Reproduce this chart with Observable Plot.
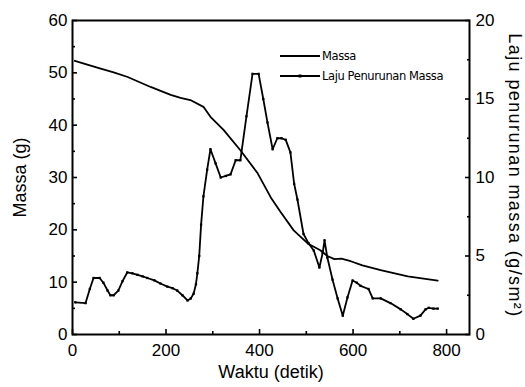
<!DOCTYPE html>
<html>
<head>
<meta charset="utf-8">
<script src="https://cdn.jsdelivr.net/npm/d3@7"></script>
<script src="https://cdn.jsdelivr.net/npm/@observablehq/plot@0.6"></script>
<style>
  html, body { margin: 0; padding: 0; background: #fff; }
  #wrap { position: relative; width: 525px; height: 387px; font-family: "Liberation Sans", Arial, sans-serif; }
  #legend { position: absolute; left: 280px; top: 46px; font-family: "DejaVu Sans", sans-serif; font-size: 11.5px; letter-spacing: -0.4px; color: #000; }
  #legend .row { display: flex; align-items: center; height: 20px; white-space: nowrap; }
  #legend svg { margin-right: 2px; }
</style>
</head>
<body>
<div id="wrap"><div id="legend"></div></div>
<script>
// Mass (g) vs time (s)
const massTime = [5, 53, 88, 118, 167, 210, 231, 252, 280, 295, 323, 359, 396, 424, 445, 473, 503, 530, 545, 560, 575, 595, 620, 659, 717, 781];
const massValue = [52.3, 51.0, 50.1, 49.2, 47.3, 45.8, 45.2, 44.8, 43.5, 41.6, 39.1, 35.2, 30.8, 26.2, 23.4, 19.9, 17.4, 16.1, 15.0, 14.4, 14.5, 14.0, 13.2, 12.3, 11.1, 10.3];

// Mass loss rate (g/s m^2) vs time (s)
const rateTime = [6, 28, 37, 45, 58, 66, 75, 81, 88, 98, 107, 117, 128, 139, 150, 160, 175, 188, 203, 214, 224, 235, 246, 253, 259, 264, 267, 271, 275, 280, 288, 295, 306, 317, 328, 338, 349, 359, 372, 385, 398, 408, 417, 428, 438, 447, 456, 466, 474, 481, 494, 505, 516, 528, 535, 539, 545, 556, 567, 578, 588, 599, 608, 616, 633, 642, 659, 680, 702, 716, 729, 744, 755, 762, 772, 781];
const rateValue = [2.05, 2.0, 2.9, 3.6, 3.6, 3.3, 2.8, 2.5, 2.5, 2.8, 3.4, 3.95, 3.9, 3.8, 3.7, 3.6, 3.45, 3.25, 3.05, 2.95, 2.8, 2.5, 2.17, 2.3, 2.6, 3.2, 3.9, 5.0, 7.0, 8.8, 10.5, 11.8, 10.9, 10.0, 10.1, 10.2, 11.1, 11.1, 13.9, 16.6, 16.6, 15.0, 13.5, 11.8, 12.5, 12.5, 12.4, 11.6, 9.6, 8.6, 6.4, 5.8, 5.35, 4.27, 5.2, 6.0, 4.9, 3.5, 2.3, 1.2, 2.36, 3.44, 3.3, 3.1, 2.9, 2.3, 2.3, 2.0, 1.6, 1.3, 1.0, 1.2, 1.6, 1.7, 1.65, 1.65];

// Axis ticks
const xMajor = [0, 200, 400, 600, 800];
const xMinor = [100, 300, 500, 700];
const yLeftMajor = [0, 10, 20, 30, 40, 50, 60];
const yLeftMinor = [5, 15, 25, 35, 45, 55];
const yRightMajor = [0, 5, 10, 15, 20];
const yRightMinor = [2.5, 7.5, 12.5, 17.5];

const seriesNames = ["Massa", "Laju Penurunan Massa"];
const xTitle = "Waktu (detik)";
const yLeftTitle = "Massa (g)";
const yRightTitle = "Laju penurunan massa (g/sm²)";

const leftMax = 60, rightMax = 20;
const k = leftMax / rightMax; // map right axis onto left y scale

const mass = massTime.map((t, i) => ({t, v: massValue[i]}));
const rate = rateTime.map((t, i) => ({t, v: rateValue[i]}));

const font = {fontSize: 17};
const blank = () => "";

const chart = Plot.plot({
  width: 525,
  height: 387,
  marginLeft: 72,
  marginRight: 56,
  marginTop: 20,
  marginBottom: 53,
  style: {fontFamily: "Liberation Sans, Arial, sans-serif", background: "white", color: "black"},
  x: {domain: [0, 849], axis: null},
  y: {domain: [0, 60], axis: null},
  marks: [
    // ticks (inward)
    Plot.axisX(xMajor, {anchor: "bottom", tickSize: -5, tickFormat: blank, label: null, strokeWidth: 1.6}),
    Plot.axisX(xMinor, {anchor: "bottom", tickSize: -3, tickFormat: blank, label: null, strokeWidth: 1.6}),
    Plot.axisY(yLeftMajor, {anchor: "left", tickSize: -5, tickFormat: blank, label: null, strokeWidth: 1.6}),
    Plot.axisY(yLeftMinor, {anchor: "left", tickSize: -3, tickFormat: blank, label: null, strokeWidth: 1.6}),
    Plot.axisY(yRightMajor.map(d => d * k), {anchor: "right", tickSize: -5, tickFormat: blank, label: null, strokeWidth: 1.6}),
    Plot.axisY(yRightMinor.map(d => d * k), {anchor: "right", tickSize: -3, tickFormat: blank, label: null, strokeWidth: 1.6}),
    // tick labels
    Plot.axisX(xMajor, {anchor: "bottom", tickSize: 0, tickPadding: 9, label: null, ...font}),
    Plot.axisY(yLeftMajor, {anchor: "left", tickSize: 0, tickPadding: 5, label: null, ...font}),
    Plot.axisY(yRightMajor.map(d => d * k), {anchor: "right", tickSize: 0, tickPadding: 6, tickFormat: d => d / k, label: null, ...font}),
    // axis titles
    Plot.text([yLeftTitle], {frameAnchor: "left", textAnchor: "middle", dx: -52, rotate: -90, fontSize: 18, fill: "black"}),
    Plot.text([yRightTitle], {frameAnchor: "right", textAnchor: "middle", dx: 45, dy: -2, rotate: 90, fontSize: 18, fill: "black"}),
    Plot.text([xTitle], {frameAnchor: "bottom", textAnchor: "middle", dy: 43, fontSize: 18, fill: "black"}),
    // data
    Plot.line(mass, {x: "t", y: "v", stroke: "black", strokeWidth: 1.8}),
    Plot.line(rate, {x: "t", y: d => d.v * k, stroke: "black", strokeWidth: 1.8}),
    Plot.dot(rate, {x: "t", y: d => d.v * k, r: 1.3, fill: "black", symbol: "square"}),
    Plot.frame({stroke: "black", strokeWidth: 2})
  ]
});

// widen the right-axis title spacing to match the reference
d3.select(chart).selectAll("text")
  .filter(function () { return this.textContent === yRightTitle; })
  .attr("letter-spacing", "1.4px");

const wrap = document.getElementById("wrap");
wrap.insertBefore(chart, wrap.firstChild);

// Legend
const legend = document.getElementById("legend");
seriesNames.forEach((name, i) => {
  const row = document.createElement("div");
  row.className = "row";
  const withDot = i === 1;
  row.innerHTML = `<svg width="40" height="8"><line x1="0" y1="4" x2="40" y2="4" stroke="black" stroke-width="1.8"/>${withDot ? '<rect x="18.5" y="2.5" width="3" height="3" fill="black"/>' : ''}</svg><span>${name}</span>`;
  legend.appendChild(row);
});
</script>
</body>
</html>
